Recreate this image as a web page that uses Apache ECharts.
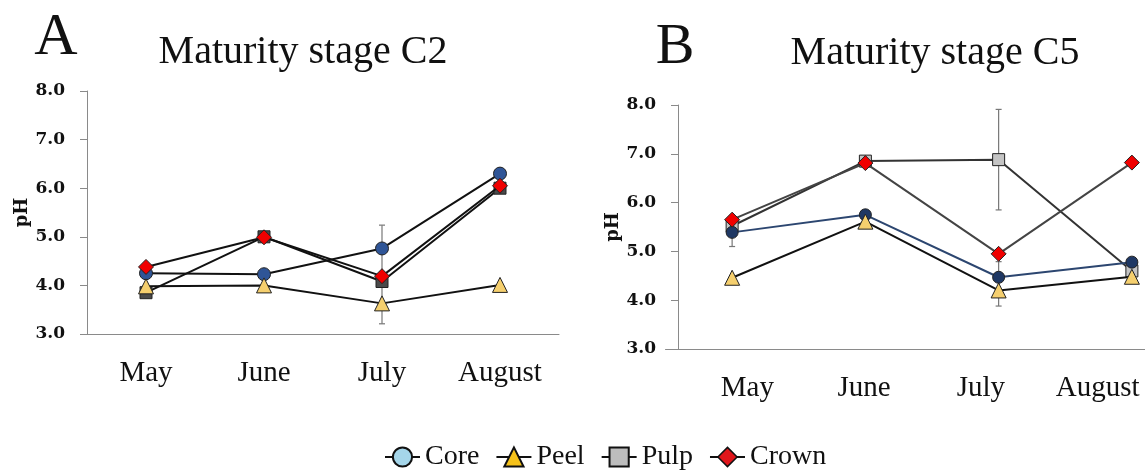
<!DOCTYPE html>
<html>
<head>
<meta charset="utf-8">
<script src="https://cdn.jsdelivr.net/npm/echarts@6/dist/echarts.min.js"></script>
<style>
html,body{margin:0;padding:0;background:#fff;overflow:hidden;}
#chart{width:1210px;height:471px;}
</style>
</head>
<body>
<div id="chart"></div>
<script>
// ---- data ----
const months = ['May', 'June', 'July', 'August'];
const seriesNames = ['Core', 'Peel', 'Pulp', 'Crown'];
const yTickLabels = ['3.0', '4.0', '5.0', '6.0', '7.0', '8.0'];

// Panel A - Maturity stage C2
const coreA  = [4.25, 4.23, 4.76, 6.30];
const peelA  = [3.98, 4.00, 3.63, 4.01];
const pulpA  = [3.85, 5.00, 4.08, 6.00];
const crownA = [4.38, 4.99, 4.19, 6.05];
const coreErrA = [0, 0, 0.48, 0];
const peelErrA = [0, 0, 0.42, 0];

// Panel B - Maturity stage C5
const coreB  = [5.39, 5.75, 4.47, 4.78];
const peelB  = [4.46, 5.61, 4.20, 4.48];
const pulpB  = [5.52, 6.85, 6.88, 4.60];
const crownB = [5.65, 6.81, 4.95, 6.82];
const coreErrB = [0.29, 0, 0.32, 0];
const peelErrB = [0, 0, 0.32, 0];
const pulpErrB = [0, 0, 1.03, 0];

// ---- chart ----
const chart = echarts.init(document.getElementById('chart'), null, {renderer: 'canvas'});
const SERIF = '"Liberation Serif", "Times New Roman", serif';
const BOLDSERIF = '"DejaVu Serif", serif';

function yAxisCfg(gridIndex, offset) {
  return {
    type: 'value', gridIndex: gridIndex, min: 3, max: 8, interval: 1, offset: offset,
    name: 'pH', nameLocation: 'middle', nameRotate: 90, nameGap: 48,
    nameTextStyle: {fontFamily: BOLDSERIF, fontWeight: 'bold', fontSize: 18, color: '#111'},
    axisLine: {show: true, lineStyle: {color: '#8a8a8a', width: 1}},
    axisTick: {show: true, length: 7, lineStyle: {color: '#8a8a8a'}},
    splitLine: {show: false},
    axisLabel: {
      margin: 22, fontFamily: BOLDSERIF, fontWeight: 'bold', fontSize: 17, color: '#111',
      formatter: function (v) { return yTickLabels[Math.round(v - 3)]; }
    }
  };
}
function xAxisCfg(gridIndex, showLabels, showLine) {
  return {
    type: 'category', gridIndex: gridIndex, data: months, boundaryGap: true,
    axisLine: {show: showLine, lineStyle: {color: '#8a8a8a', width: 1}},
    axisTick: {show: false},
    axisLabel: {show: showLabels, margin: 25, fontFamily: SERIF, fontSize: 29, color: '#111'}
  };
}
function lineSeries(name, data, axisIndex, symbol, size, fill, lineColor, z) {
  return {
    name: name, type: 'line', xAxisIndex: axisIndex, yAxisIndex: axisIndex,
    data: data, symbol: symbol, symbolSize: size, showSymbol: true, z: z,
    lineStyle: {color: lineColor, width: 2},
    itemStyle: {color: fill, borderColor: '#222', borderWidth: 1},
    emphasis: {disabled: true}, animation: false
  };
}
function errSeries(vals, errs, axisIndex) {
  const data = [];
  vals.forEach(function (v, i) { if (errs[i] > 0) data.push([i, v, errs[i]]); });
  return {
    type: 'custom', xAxisIndex: axisIndex, yAxisIndex: axisIndex, data: data, z: 1,
    silent: true, animation: false,
    renderItem: function (params, api) {
      const x = api.value(0), y = api.value(1), e = api.value(2);
      const top = api.coord([x, y + e]);
      const bot = api.coord([x, y - e]);
      const st = {stroke: '#777', lineWidth: 1.2};
      return {type: 'group', children: [
        {type: 'line', shape: {x1: top[0], y1: top[1], x2: bot[0], y2: bot[1]}, style: st},
        {type: 'line', shape: {x1: top[0] - 3, y1: top[1], x2: top[0] + 3, y2: top[1]}, style: st},
        {type: 'line', shape: {x1: bot[0] - 3, y1: bot[1], x2: bot[0] + 3, y2: bot[1]}, style: st}
      ]};
    }
  };
}

const option = {
  backgroundColor: '#fff',
  animation: false,
  grid: [
    {left: 87, top: 91, width: 472, height: 243},
    {left: 665.5, top: 105, width: 533, height: 244},
    {left: 689, top: 105, width: 467, height: 244}   // label row of panel B
  ],
  xAxis: [xAxisCfg(0, true, true), xAxisCfg(1, false, true), xAxisCfg(2, true, false)],
  yAxis: [
    yAxisCfg(0, 0),
    yAxisCfg(1, -12.5),
    {type: 'value', gridIndex: 2, min: 3, max: 8, show: false}
  ],
  legend: {
    left: 379, top: 438, itemWidth: 35, itemHeight: 24, itemGap: 16,
    textStyle: {fontFamily: SERIF, fontSize: 28, color: '#111'},
    selectedMode: false,
    data: [
      {name: 'Core', itemStyle: {color: '#a5d6ea', borderColor: '#111', borderWidth: 2}, lineStyle: {color: '#111', width: 2}},
      {name: 'Peel', itemStyle: {color: '#f6c21a', borderColor: '#111', borderWidth: 2}, lineStyle: {color: '#111', width: 2}},
      {name: 'Pulp', itemStyle: {color: '#bdbdbd', borderColor: '#111', borderWidth: 2}, lineStyle: {color: '#111', width: 2}},
      {name: 'Crown', itemStyle: {color: '#e0161b', borderColor: '#111', borderWidth: 1.5}, lineStyle: {color: '#111', width: 2}}
    ]
  },
  graphic: [
    {type: 'text', x: 56, y: 38, style: {text: 'A', font: '60px ' + SERIF, fill: '#111', align: 'center', verticalAlign: 'middle'}},
    {type: 'text', x: 303, y: 52, style: {text: 'Maturity stage C2', font: '40px ' + SERIF, fill: '#111', align: 'center', verticalAlign: 'middle'}},
    {type: 'text', x: 675, y: 48, style: {text: 'B', font: '58px ' + SERIF, fill: '#111', align: 'center', verticalAlign: 'middle'}},
    {type: 'text', x: 935, y: 53, style: {text: 'Maturity stage C5', font: '40px ' + SERIF, fill: '#111', align: 'center', verticalAlign: 'middle'}}
  ],
  series: [
    errSeries(coreA, coreErrA, 0),
    errSeries(peelA, peelErrA, 0),
    lineSeries('Pulp', pulpA, 0, 'rect', 12, '#4a4a4a', '#111', 2),
    lineSeries('Core', coreA, 0, 'circle', 13, '#2f5597', '#111', 3),
    lineSeries('Peel', peelA, 0, 'triangle', 15, '#f5cf6e', '#111', 4),
    lineSeries('Crown', crownA, 0, 'diamond', 15, '#f00000', '#111', 5),

    errSeries(coreB, coreErrB, 1),
    errSeries(peelB, peelErrB, 1),
    errSeries(pulpB, pulpErrB, 1),
    lineSeries('Pulp', pulpB, 1, 'rect', 12, '#c4c4c4', '#333', 2),
    lineSeries('Core', coreB, 1, 'circle', 12, '#1f3864', '#2c4670', 3),
    lineSeries('Peel', peelB, 1, 'triangle', 15, '#f5cf6e', '#111', 4),
    lineSeries('Crown', crownB, 1, 'diamond', 15, '#f00000', '#444', 5)
  ]
};
chart.setOption(option);
</script>
</body>
</html>
